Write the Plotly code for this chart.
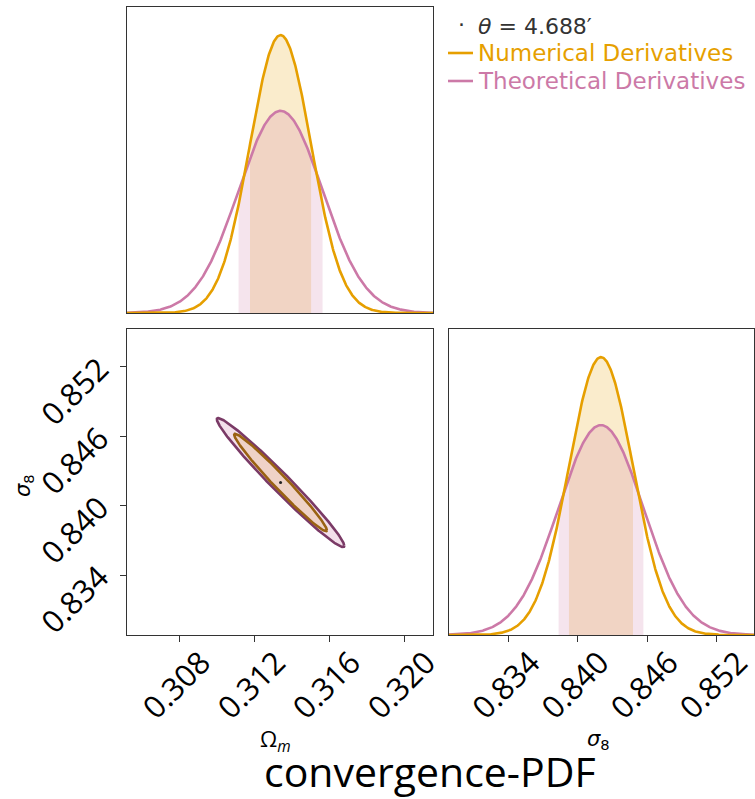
import numpy as np
import plotly.graph_objects as go

# ---- data ----
params = ["Ωm", "σ8"]
fiducial = [0.3134, 0.8420]
# Numerical derivatives: 1-sigma errors and correlation
num_sigma = [0.00163, 0.00278]
num_rho = -0.98
# Theoretical derivatives
theo_sigma = [0.00224, 0.00368]
theo_rho = -0.98

om_range = [0.30521, 0.32153]
s8_range = [0.82881, 0.85528]
om_ticks = [0.308, 0.312, 0.316, 0.320]
om_ticktext = ["0.308", "0.312", "0.316", "0.320"]
s8_ticks = [0.834, 0.840, 0.846, 0.852]
s8_ticktext = ["0.834", "0.840", "0.846", "0.852"]

theta_label = "<i>θ</i> = 4.688′"
series_names = ["Numerical Derivatives", "Theoretical Derivatives"]
title_text = "convergence-PDF"

# ---- styles ----
ORANGE = "#E69F00"
PINK = "#CC79A7"
ORANGE_FILL = "rgba(230,159,0,0.20)"
PINK_FILL = "rgba(204,121,167,0.20)"
ORANGE_FILL_2D = "rgba(230,159,0,0.18)"
PINK_FILL_2D = "rgba(204,121,167,0.24)"
ORANGE_DARK = "#9a6212"
PINK_DARK = "#7a3a66"
W, H = 755, 799


def px(xp):
    return xp / W


def py(yp):
    return 1 - yp / H


def gauss(x, mu, s):
    return np.exp(-0.5 * ((x - mu) / s) ** 2) / s


def ellipse(mu, sig, rho, dchi2=2.30, n=400):
    cov = np.array([[sig[0] ** 2, rho * sig[0] * sig[1]],
                    [rho * sig[0] * sig[1], sig[1] ** 2]])
    L = np.linalg.cholesky(cov)
    t = np.linspace(0, 2 * np.pi, n)
    pts = L @ np.vstack([np.cos(t), np.sin(t)]) * np.sqrt(dchi2)
    return mu[0] + pts[0], mu[1] + pts[1]


fig = go.Figure()

num_set = (num_sigma, num_rho, ORANGE, ORANGE_FILL, ORANGE_FILL_2D, ORANGE_DARK)
theo_set = (theo_sigma, theo_rho, PINK, PINK_FILL, PINK_FILL_2D, PINK_DARK)
fill_order = [num_set, theo_set]
line_order = [theo_set, num_set]

# ---- 1D panels ----
panels = [(0, om_range, "x", "y"), (1, s8_range, "x3", "y3")]
for i, rng, xa, ya in panels:
    peak_ref = gauss(fiducial[i], fiducial[i], num_sigma[i])
    xs = np.linspace(rng[0], rng[1], 600)
    for sig, rho, col, fill, fill2, dark in fill_order:
        xb = np.linspace(fiducial[i] - sig[i], fiducial[i] + sig[i], 200)
        fig.add_trace(go.Scatter(x=xb, y=gauss(xb, fiducial[i], sig[i]) / peak_ref,
                                 mode="lines", line=dict(width=0), fill="tozeroy",
                                 fillcolor=fill, xaxis=xa, yaxis=ya,
                                 showlegend=False, hoverinfo="skip"))
    for sig, rho, col, fill, fill2, dark in line_order:
        fig.add_trace(go.Scatter(x=xs, y=gauss(xs, fiducial[i], sig[i]) / peak_ref,
                                 mode="lines", line=dict(color=col, width=2.6),
                                 xaxis=xa, yaxis=ya, showlegend=False))

# ---- 2D panel ----
for sig, rho, col, fill, fill2, dark in fill_order:
    ex, ey = ellipse(fiducial, sig, rho)
    fig.add_trace(go.Scatter(x=ex, y=ey, mode="lines", fill="toself", fillcolor=fill2,
                             line=dict(width=0), xaxis="x2", yaxis="y2",
                             showlegend=False, hoverinfo="skip"))
for sig, rho, col, fill, fill2, dark in line_order:
    ex, ey = ellipse(fiducial, sig, rho)
    fig.add_trace(go.Scatter(x=ex, y=ey, mode="lines",
                             line=dict(color=dark, width=2.6), xaxis="x2", yaxis="y2",
                             showlegend=False))
fig.add_trace(go.Scatter(x=[fiducial[0]], y=[fiducial[1]], mode="markers",
                         marker=dict(color="#222", size=3), xaxis="x2", yaxis="y2",
                         showlegend=False))

# ---- axes ----
xd_left = [px(127), px(433)]
xd_right = [px(449), px(754)]
yd_top = [py(313), py(7)]
yd_bot = [py(635), py(329)]
frame = dict(showline=True, linecolor="#333", linewidth=1.3, mirror=True,
             showgrid=False, zeroline=False, automargin=False)
tickfont = dict(family="Open Sans", size=31, color="black")
ymax = 1 / 0.908
xtick = dict(ticks="outside", ticklen=6, tickwidth=1.3, tickcolor="#333",
             tickangle=-45, tickfont=tickfont, ticklabeloverflow="allow")

fig.update_layout(
    width=W, height=H, margin=dict(l=0, r=0, t=0, b=0, autoexpand=False),
    paper_bgcolor="white", plot_bgcolor="white", showlegend=False,
    xaxis=dict(domain=xd_left, range=om_range, anchor="y", showticklabels=False,
               ticks="", **frame),
    yaxis=dict(domain=yd_top, range=[0, ymax], anchor="x", showticklabels=False,
               ticks="", **frame),
    xaxis2=dict(domain=xd_left, range=om_range, anchor="y2", tickvals=om_ticks,
                ticktext=om_ticktext, ticklabelshift=22, ticklabelstandoff=-10,
                **xtick, **frame),
    yaxis2=dict(domain=yd_bot, range=s8_range, anchor="x2", tickvals=s8_ticks,
                ticktext=s8_ticktext, ticklabelshift=-2, ticklabelstandoff=14,
                **xtick, **frame),
    xaxis3=dict(domain=xd_right, range=s8_range, anchor="y3", tickvals=s8_ticks,
                ticktext=s8_ticktext, ticklabelshift=22, ticklabelstandoff=-10,
                **xtick, **frame),
    yaxis3=dict(domain=yd_bot, range=[0, ymax], anchor="x3", showticklabels=False,
                ticks="", **frame),
)

# ---- axis labels, legend and title ----
ann = []


def note(text, x, y, size, family="DejaVu Sans", color="black", xanchor="center",
         angle=0):
    ann.append(dict(text=text, x=px(x), y=py(y), xref="paper", yref="paper",
                    xanchor=xanchor, yanchor="middle", showarrow=False,
                    textangle=angle, font=dict(family=family, size=size, color=color)))


note("Ω<sub><i>m</i></sub>", 275, 740, 22, family="Open Sans")
note("<i>σ</i><sub>8</sub>", 598, 740, 21)
note("<i>σ</i><sub>8</sub>", 24, 486, 21, angle=-90)
note(title_text, 430, 771, 41, family="Open Sans")
note("·", 461, 25, 22, color="#333")
note(theta_label, 476, 26, 22, color="#333", xanchor="left")

legend_cols = [ORANGE, PINK]
legend_y = [53, 81]
shapes = []
for name, col, yy in zip(series_names, legend_cols, legend_y):
    note(name, 476, yy, 23, color=col, xanchor="left")
    shapes.append(dict(type="line", xref="paper", yref="paper", x0=px(448), x1=px(473),
                       y0=py(yy), y1=py(yy), line=dict(color=col, width=2.6)))
fig.update_layout(annotations=ann, shapes=shapes)

fig.write_html("out.html")
